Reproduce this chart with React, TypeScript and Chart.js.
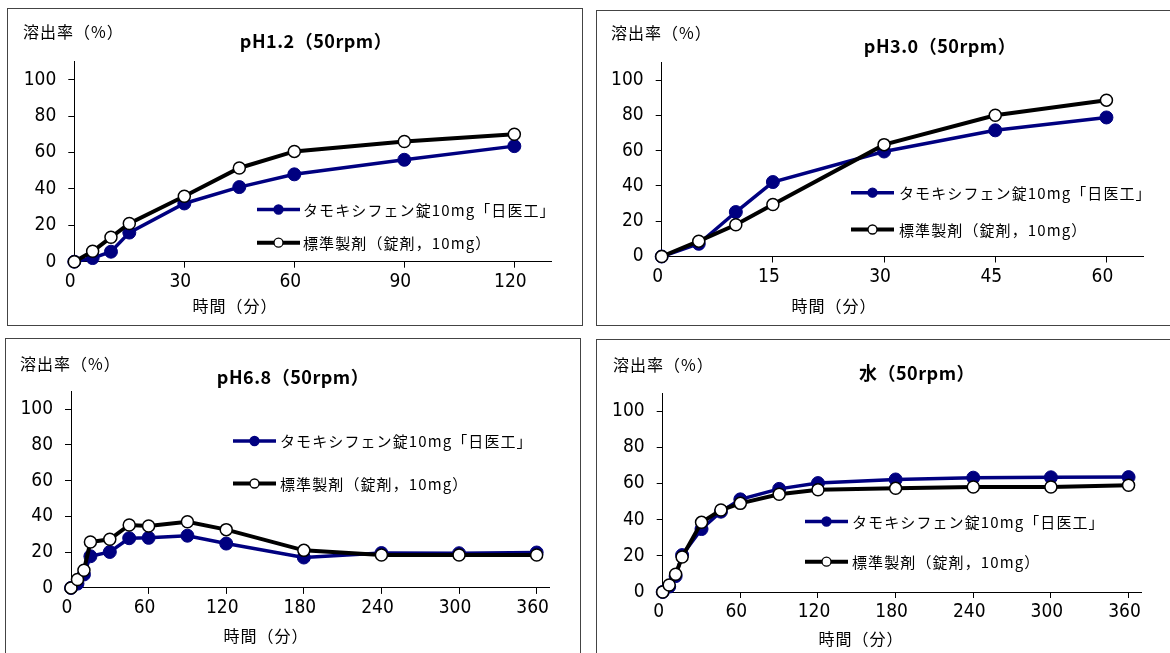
import { useEffect, useRef } from "react";
import { Chart, registerables } from "chart.js";

Chart.register(...registerables);

// ---------- data ----------
const timesPh12 = [0, 5, 10, 15, 30, 45, 60, 90, 120];
const testPh12 = [0, 2, 5.5, 16, 32, 41, 48, 56, 63.5];
const refPh12 = [0, 5.7, 13.4, 21, 36, 51.5, 60.6, 66, 70];

const timesPh30 = [0, 5, 10, 15, 30, 45, 60];
const testPh30 = [0, 7.2, 25.2, 42.2, 59.5, 71.5, 78.8];
const refPh30 = [0, 8.7, 18, 29.5, 63.4, 80, 88.6];

const timesLong = [0, 5, 10, 15, 30, 45, 60, 90, 120, 180, 240, 300, 360];
const testPh68 = [0, 2.4, 7.5, 17.7, 20.1, 27.8, 28, 29.2, 24.8, 17, 19.5, 19.4, 19.8];
const refPh68 = [0, 4.7, 9.9, 25.7, 27.2, 35.2, 34.6, 37, 32.6, 21, 18.4, 18.4, 18.4];

const testWater = [0, 3, 8.8, 20.4, 34.8, 44.4, 51.2, 57, 60.2, 62.2, 63.2, 63.4, 63.5];
const refWater = [0, 3.9, 9.8, 19.3, 38.5, 45.3, 49, 54, 56.5, 57.3, 58, 58, 59];

const titles = ["pH1.2（50rpm）", "pH3.0（50rpm）", "pH6.8（50rpm）", "水（50rpm）"];
const testLabel = "タモキシフェン錠10mg「日医工」";
const refLabel = "標準製剤（錠剤，10mg）";
const yAxisLabel = "溶出率（%）";
const xAxisLabel = "時間（分）";

const yTicks = [0, 20, 40, 60, 80, 100];
const xTicksPh12 = [0, 30, 60, 90, 120];
const xTicksPh30 = [0, 15, 30, 45, 60];
const xTicksLong = [0, 60, 120, 180, 240, 300, 360];

// ---------- layout (page coordinates) ----------
type Panel = {
  times: number[];
  test: number[];
  ref: number[];
  xTicks: number[];
  xMax: number;
  title: string;
  box: { l: number; t: number; w: number; h: number };
  plot: { l: number; r: number; t: number; b: number };
  titlePos: [number, number];
  yLabelPos: [number, number];
  xLabelPos: [number, number];
  legend: { x: number; y1: number; y2: number; tx: number };
};

const panels: Panel[] = [
  {
    times: timesPh12, test: testPh12, ref: refPh12, xTicks: xTicksPh12, xMax: 130, title: titles[0],
    box: { l: 7, t: 8, w: 576, h: 318 },
    plot: { l: 74.3, r: 551, t: 61.5, b: 261.7 },
    titlePos: [316, 41], yLabelPos: [23, 32], xLabelPos: [235, 306],
    legend: { x: 257, y1: 209.5, y2: 242.7, tx: 303 },
  },
  {
    times: timesPh30, test: testPh30, ref: refPh30, xTicks: xTicksPh30, xMax: 65, title: titles[1],
    box: { l: 596, t: 10, w: 600, h: 316 },
    plot: { l: 661.7, r: 1143.5, t: 62.4, b: 256.5 },
    titlePos: [940, 46.5], yLabelPos: [611, 33], xLabelPos: [834, 306],
    legend: { x: 851, y1: 192.7, y2: 229.5, tx: 899 },
  },
  {
    times: timesLong, test: testPh68, ref: refPh68, xTicks: xTicksLong, xMax: 370, title: titles[2],
    box: { l: 5, t: 338, w: 576, h: 330 },
    plot: { l: 71, r: 549.6, t: 391.3, b: 587.9 },
    titlePos: [293, 377], yLabelPos: [20, 363.5], xLabelPos: [266, 636],
    legend: { x: 233, y1: 441, y2: 483.5, tx: 280 },
  },
  {
    times: timesLong, test: testWater, ref: refWater, xTicks: xTicksLong, xMax: 370, title: titles[3],
    box: { l: 596, t: 339, w: 600, h: 330 },
    plot: { l: 662.7, r: 1141.5, t: 393, b: 592 },
    titlePos: [917, 373], yLabelPos: [613, 365], xLabelPos: [861, 639],
    legend: { x: 805, y1: 521.5, y2: 561.7, tx: 852 },
  },
];

const NAVY = "#000080";
const TICK_FONT = "'Liberation Sans Narrow', 'DejaVu Sans Condensed', 'Noto Sans CJK JP', sans-serif";
const JP_FONT = "'Noto Sans CJK JP', 'Noto Sans', sans-serif";

function PanelChart({ p }: { p: Panel }) {
  const ref = useRef<HTMLCanvasElement | null>(null);
  useEffect(() => {
    if (!ref.current) return;
    const { box, plot } = p;
    const ox = box.l;
    const oy = box.t;
    const annot = {
      id: "annot",
      afterDraw(chart: any) {
        const ctx = chart.ctx as CanvasRenderingContext2D;
        ctx.save();
        ctx.fillStyle = "#000";
        ctx.textBaseline = "middle";
        // title
        ctx.font = `bold 18px ${JP_FONT}`;
        ctx.textAlign = "center";
        (ctx as any).letterSpacing = "0.5px";
        ctx.fillText(p.title, p.titlePos[0] - ox, p.titlePos[1] - oy);
        // axis labels
        ctx.font = `16px ${JP_FONT}`;
        (ctx as any).letterSpacing = "1px";
        ctx.textAlign = "left";
        ctx.fillText(yAxisLabel, p.yLabelPos[0] - ox, p.yLabelPos[1] - oy);
        ctx.textAlign = "center";
        ctx.fillText(xAxisLabel, p.xLabelPos[0] - ox, p.xLabelPos[1] - oy);
        (ctx as any).letterSpacing = "0px";
        // legend
        const items = [
          { label: testLabel, y: p.legend.y1, color: NAVY, fill: NAVY, stroke: NAVY, lw: 3.5 },
          { label: refLabel, y: p.legend.y2, color: "#000", fill: "#fff", stroke: "#000", lw: 4 },
        ];
        for (const it of items) {
          const x = p.legend.x - ox;
          const y = it.y - oy;
          ctx.strokeStyle = it.color;
          ctx.lineWidth = it.lw;
          ctx.beginPath();
          ctx.moveTo(x, y);
          ctx.lineTo(x + 43, y);
          ctx.stroke();
          ctx.beginPath();
          ctx.arc(x + 21.5, y, 4.5, 0, Math.PI * 2);
          ctx.fillStyle = it.fill;
          ctx.fill();
          ctx.lineWidth = 1.3;
          ctx.strokeStyle = it.stroke;
          ctx.stroke();
          ctx.fillStyle = "#000";
          ctx.font = `15px ${JP_FONT}`;
          (ctx as any).letterSpacing = "1.1px";
          ctx.textAlign = "left";
          ctx.fillText(it.label, p.legend.tx - ox, y + 0.5);
          (ctx as any).letterSpacing = "0px";
        }
        ctx.restore();
      },
    };

    const chart = new Chart(ref.current, {
      type: "line",
      data: {
        datasets: [
          {
            label: testLabel,
            data: p.times.map((t, i) => ({ x: t, y: p.test[i] })),
            borderColor: NAVY,
            backgroundColor: NAVY,
            borderWidth: 3.5,
            pointRadius: 6.5,
            pointBorderWidth: 1,
            pointBackgroundColor: NAVY,
            pointBorderColor: NAVY,
            clip: false,
            order: 1,
          },
          {
            label: refLabel,
            data: p.times.map((t, i) => ({ x: t, y: p.ref[i] })),
            borderColor: "#000",
            backgroundColor: "#fff",
            borderWidth: 4,
            pointRadius: 6,
            pointBorderWidth: 1.5,
            pointBackgroundColor: "#fff",
            pointBorderColor: "#000",
            clip: false,
            order: 0,
          },
        ],
      },
      options: {
        animation: false,
        responsive: false,
        devicePixelRatio: 1,
        layout: {
          padding: {
            left: 0,
            top: plot.t - box.t,
            right: box.w - (plot.r - box.l),
            bottom: 0,
          },
        },
        plugins: { legend: { display: false }, tooltip: { enabled: false }, title: { display: false } },
        scales: {
          x: {
            type: "linear",
            min: 0,
            max: p.xMax,
            afterFit: (s: any) => {
              s.height = box.h - (plot.b - box.t);
            },
            afterBuildTicks: (s: any) => {
              s.ticks = p.xTicks.map((v) => ({ value: v }));
            },
            grid: { drawOnChartArea: false, drawTicks: true, tickLength: 6, color: "#000", lineWidth: 1 },
            border: { color: "#000", width: 1 },
            ticks: {
              autoSkip: false,
              maxRotation: 0,
              color: "#000",
              padding: 3,
              labelOffset: -4,
              font: { family: TICK_FONT, size: 19 },
            },
          },
          y: {
            type: "linear",
            min: 0,
            max: 110,
            afterFit: (s: any) => {
              s.width = plot.l - box.l;
            },
            afterBuildTicks: (s: any) => {
              s.ticks = yTicks.map((v) => ({ value: v }));
            },
            grid: { drawOnChartArea: false, drawTicks: true, tickLength: 6, color: "#000", lineWidth: 1 },
            border: { color: "#000", width: 1 },
            ticks: {
              color: "#000",
              padding: 12,
              font: { family: TICK_FONT, size: 19 },
            },
          },
        },
      } as any,
      plugins: [annot],
    });
    return () => chart.destroy();
  }, [p]);

  return (
    <>
      <canvas
        ref={ref}
        width={p.box.w}
        height={p.box.h}
        style={{ position: "absolute", left: p.box.l, top: p.box.t, width: p.box.w, height: p.box.h }}
      />
      <div
        style={{
          position: "absolute",
          left: p.box.l,
          top: p.box.t,
          width: p.box.w - 2,
          height: p.box.h - 2,
          border: "1px solid #444",
          pointerEvents: "none",
        }}
      />
    </>
  );
}

export default function App() {
  return (
    <div
      style={{
        position: "absolute",
        left: 0,
        top: 0,
        width: 1170,
        height: 653,
        overflow: "hidden",
        background: "#fff",
      }}
    >
      {panels.map((p, i) => (
        <PanelChart key={i} p={p} />
      ))}
    </div>
  );
}
